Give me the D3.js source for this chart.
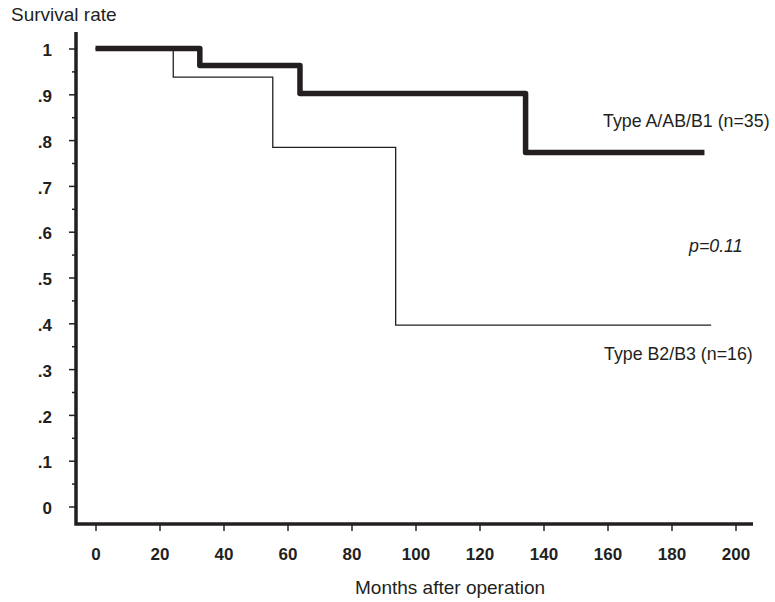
<!DOCTYPE html>
<html>
<head>
<meta charset="utf-8">
<script src="https://cdn.jsdelivr.net/npm/d3@7"></script>
<style>
  body { margin: 0; background: #fff; }
  svg text { font-family: "Liberation Sans", Arial, sans-serif; fill: #231f20; }
</style>
</head>
<body>
<div id="chart"></div>
<script>
// Kaplan-Meier steps
var groupA = "Type A/AB/B1 (n=35)";
var monthsA = [0, 32.6, 63.9, 134.4, 190.3];
var survA   = [1, 0.963, 0.902, 0.773, 0.773];

var groupB = "Type B2/B3 (n=16)";
var monthsB = [0, 24.3, 55.4, 93.8, 192.4];
var survB   = [1, 0.9375, 0.784, 0.396, 0.396];

var xTicks = [0, 20, 40, 60, 80, 100, 120, 140, 160, 180, 200];
var yTicks = [0, 0.1, 0.2, 0.3, 0.4, 0.5, 0.6, 0.7, 0.8, 0.9, 1];
var yMinor = [0.05, 0.15, 0.25, 0.35, 0.45, 0.55, 0.65, 0.75, 0.85, 0.95];
var pText = "p=0.11";

var W = 775, H = 602;
var axisX = 76, axisY = 524;   // where the two axis lines sit
var ink = "#231f20";

var svg = d3.select("#chart").append("svg")
    .attr("width", W)
    .attr("height", H);

var xScale = d3.scaleLinear().domain([0, 200]).range([95.5, 735.5]);
var yScale = d3.scaleLinear().domain([0, 1]).range([506.5, 48.5]);

// --------- y axis
var yAxis = d3.axisLeft(yScale)
    .tickValues(yTicks)
    .tickSize(7)
    .tickFormat(function (d) {
        if (d === 0) return "0";
        if (d === 1) return "1";
        return d3.format(".1f")(d).replace(/^0/, "");
    });

var yg = svg.append("g")
    .attr("transform", "translate(" + axisX + ",0)")
    .call(yAxis);
yg.select(".domain").remove();
yg.selectAll(".tick line").attr("stroke", ink).attr("stroke-width", 1.5);
yg.selectAll(".tick text")
    .attr("x", -24)
    .attr("dy", "0.42em")
    .attr("font-size", 17)
    .attr("font-weight", "bold")
    .attr("fill", ink);

var yMinorG = svg.append("g")
    .attr("transform", "translate(" + axisX + ",0)")
    .call(d3.axisLeft(yScale).tickValues(yMinor).tickSize(4).tickFormat(""));
yMinorG.select(".domain").remove();
yMinorG.selectAll(".tick line").attr("stroke", ink).attr("stroke-width", 1.5);

// --------- x axis
var xAxis = d3.axisBottom(xScale)
    .tickValues(xTicks)
    .tickSize(7);

var xg = svg.append("g")
    .attr("transform", "translate(0," + axisY + ")")
    .call(xAxis);
xg.select(".domain").remove();
xg.selectAll(".tick line").attr("stroke", ink).attr("stroke-width", 1.5);
xg.selectAll(".tick text")
    .attr("y", 36)
    .attr("dy", 0)
    .attr("font-size", 17)
    .attr("font-weight", "bold")
    .attr("fill", ink);

// axis lines (L shape)
svg.append("path")
    .attr("d", "M" + axisX + ",32 V" + axisY + " H753")
    .attr("fill", "none")
    .attr("stroke", ink)
    .attr("stroke-width", 3.5)
    .attr("stroke-linejoin", "miter");

// --------- survival curves
var step = d3.line()
    .x(function (d) { return xScale(d[0]); })
    .y(function (d) { return yScale(d[1]); })
    .curve(d3.curveStepAfter);

svg.append("path")
    .datum(d3.zip(monthsB, survB))
    .attr("d", step)
    .attr("fill", "none")
    .attr("stroke", ink)
    .attr("stroke-width", 1.3);

svg.append("path")
    .datum(d3.zip(monthsA, survA))
    .attr("d", step)
    .attr("fill", "none")
    .attr("stroke", ink)
    .attr("stroke-width", 5.5)
    .attr("stroke-linejoin", "round");

// --------- labels
svg.append("text")
    .attr("x", 11)
    .attr("y", 21)
    .attr("font-size", 19)
    .text("Survival rate");

svg.append("text")
    .attr("x", 355)
    .attr("y", 594)
    .attr("font-size", 19)
    .text("Months after operation");

svg.append("text")
    .attr("x", 603)
    .attr("y", 127)
    .attr("font-size", 17.8)
    .text(groupA);

svg.append("text")
    .attr("x", 604)
    .attr("y", 360)
    .attr("font-size", 17.8)
    .text(groupB);

svg.append("text")
    .attr("x", 689)
    .attr("y", 252)
    .attr("font-size", 17.8)
    .attr("font-style", "italic")
    .text(pText);
</script>
</body>
</html>
